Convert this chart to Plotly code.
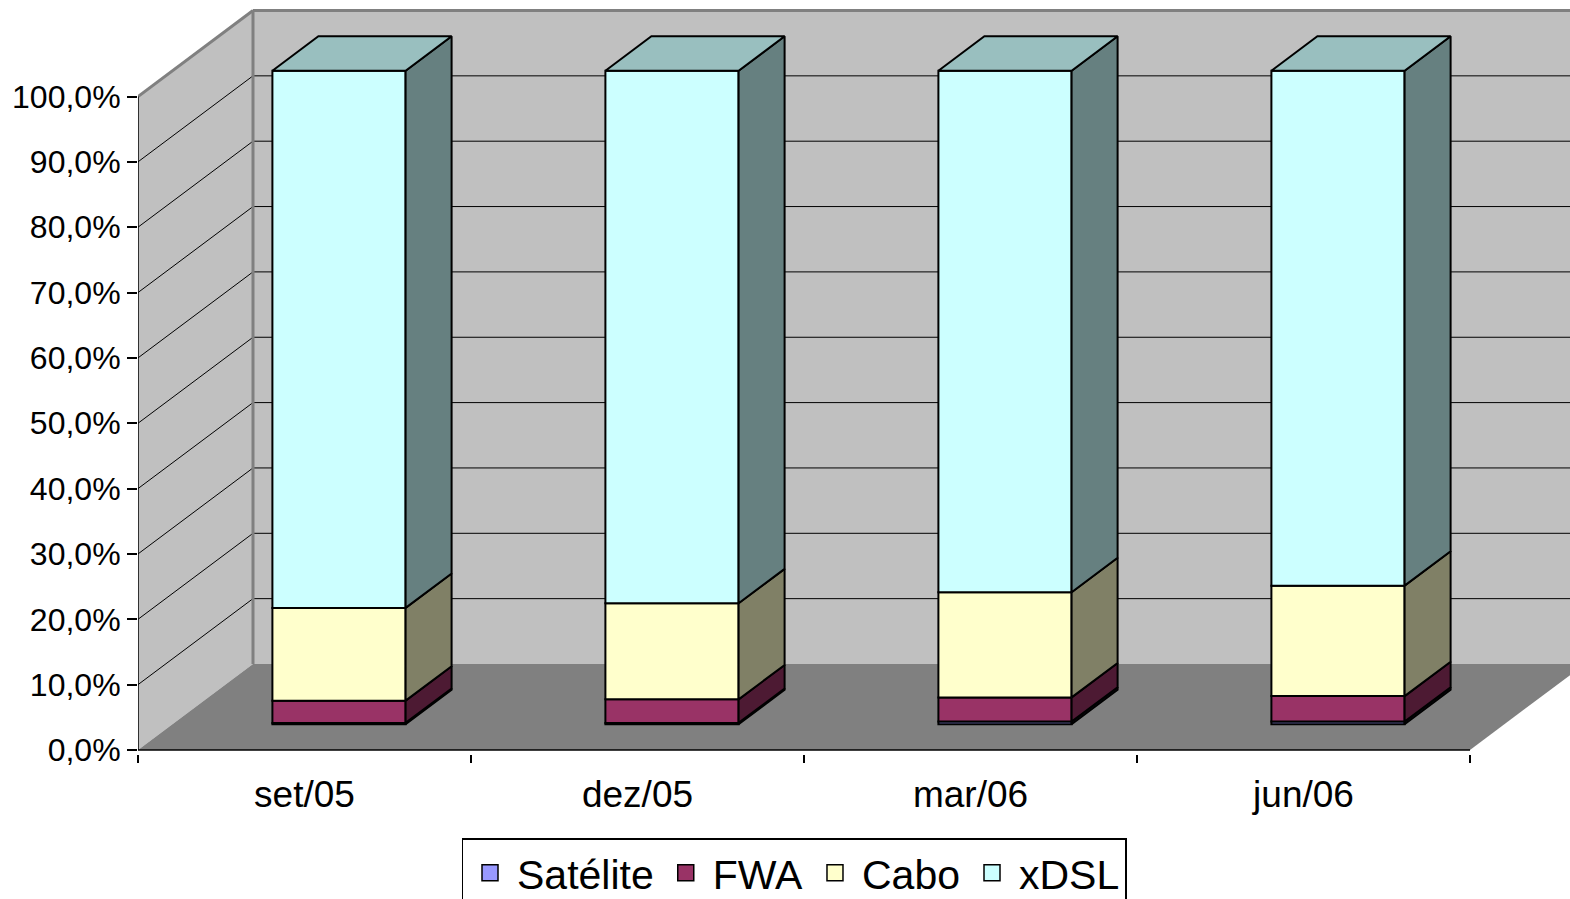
import plotly.graph_objects as go

# Share of broadband accesses by technology (percent of total)
categories = ["set/05", "dez/05", "mar/06", "jun/06"]
satelite = [0.2, 0.2, 0.4, 0.4]
fwa = [3.4, 3.6, 3.7, 3.9]
cabo = [14.2, 14.7, 16.1, 16.9]
xdsl = [82.2, 81.5, 79.8, 78.8]

y_ticks = list(range(0, 101, 10))
y_tick_labels = [f"{v},0%" for v in y_ticks]

series_names = ["Satélite", "FWA", "Cabo", "xDSL"]
series_values = [satelite, fwa, cabo, xdsl]
front_colors = ["#9999FF", "#993366", "#FFFFCC", "#CCFFFF"]
side_colors = ["#4D4D80", "#4D1A33", "#808066", "#668080"]
top_colors = ["#7373BF", "#73264D", "#BFBF99", "#99BFBF"]

FONT = "Liberation Sans, Arial, sans-serif"

# pixel calibration of the drawing area
FIG_W, FIG_H = 1570, 899
LEFT = 138            # pixel of x = 0 (front left corner)
BOTTOM = 754          # bottom edge of the plotting area
ZERO_PX = 750         # pixel row of 0 %
SX = 333.0            # pixels per category
SY = 6.535            # pixels per percent

X_RANGE = [0, (FIG_W - LEFT) / SX]
Y_RANGE = [-(BOTTOM - ZERO_PX) / SY, ZERO_PX / SY]

# depth of the 3-D box (in axis units) and bar geometry
DX = 115 / SX
DY = 86 / SY
BAR_W = 0.4
GAP_FRONT = 0.3       # fraction of depth in front of the bars
BAR_DEPTH = 0.4       # fraction of depth occupied by the bars
N = len(categories)
X_END = N + DX + 0.5

ox, oy = GAP_FRONT * DX, GAP_FRONT * DY
bdx, bdy = BAR_DEPTH * DX, BAR_DEPTH * DY

fig = go.Figure()

# ---- walls, floor and gridlines (drawn beneath the bars)
shapes = []


def poly(pts, fill):
    path = "M " + " L ".join(f"{x},{y}" for x, y in pts) + " Z"
    shapes.append(dict(type="path", path=path, xref="x", yref="y",
                       layer="below", fillcolor=fill,
                       line=dict(width=0, color=fill)))


def seg(x0, y0, x1, y1, color, width):
    shapes.append(dict(type="line", xref="x", yref="y", layer="below",
                       x0=x0, y0=y0, x1=x1, y1=y1,
                       line=dict(color=color, width=width)))


poly([(DX, DY), (X_END, DY), (X_END, 100 + DY), (DX, 100 + DY)], "#C0C0C0")
poly([(0, 0), (0, 100), (DX, 100 + DY), (DX, DY)], "#C0C0C0")
poly([(0, 0), (N, 0), (N + DX, DY), (DX, DY)], "#808080")

for v in y_ticks[1:-1]:
    seg(DX, v + DY, X_END, v + DY, "#000000", 1)
    seg(0, v, DX, v + DY, "#000000", 1)

seg(0, 100, DX, 100 + DY, "#808080", 3)
seg(DX, 100 + DY, X_END, 100 + DY, "#808080", 3)
seg(DX, DY, DX, 100 + DY, "#808080", 3)
seg(0, 0, 0, 100, "#000000", 1.5)
seg(0, 0, N, 0, "#000000", 1.5)

# ---- stacked 3-D columns
centers = [i + 0.5 + ox for i in range(N)]
cum = [0.0] * N
for name, vals, fc, sc in zip(series_names, series_values,
                              front_colors, side_colors):
    bases = [c + oy for c in cum]
    fig.add_trace(go.Bar(
        x=centers, y=vals, base=bases, width=BAR_W,
        marker=dict(color=fc, line=dict(color="#000000", width=2)),
        name=name, showlegend=False, hoverinfo="skip"))

    sx, sy = [], []
    for xc, b, v in zip(centers, bases, vals):
        xr = xc + BAR_W / 2
        sx += [xr, xr + bdx, xr + bdx, xr, xr, None]
        sy += [b, b + bdy, b + v + bdy, b + v, b, None]
    fig.add_trace(go.Scatter(
        x=sx, y=sy, mode="lines", fill="toself", fillcolor=sc,
        line=dict(color="#000000", width=2), showlegend=False,
        hoverinfo="skip"))
    cum = [c + v for c, v in zip(cum, vals)]

# top faces of the columns
tx, ty = [], []
for xc, c in zip(centers, cum):
    xl, xr, t = xc - BAR_W / 2, xc + BAR_W / 2, c + oy
    tx += [xl, xl + bdx, xr + bdx, xr, xl, None]
    ty += [t, t + bdy, t + bdy, t, t, None]
fig.add_trace(go.Scatter(
    x=tx, y=ty, mode="lines", fill="toself", fillcolor=top_colors[-1],
    line=dict(color="#000000", width=2), showlegend=False, hoverinfo="skip"))

# legend entries
for name, fc in zip(series_names, front_colors):
    fig.add_trace(go.Scatter(
        x=[None], y=[None], mode="markers", name=name,
        marker=dict(symbol="square", size=16, color=fc,
                    line=dict(color="#000000", width=1.5))))

fig.update_layout(
    width=FIG_W, height=FIG_H,
    margin=dict(l=LEFT, r=0, t=0, b=FIG_H - BOTTOM, autoexpand=False),
    paper_bgcolor="#FFFFFF", plot_bgcolor="#FFFFFF",
    barmode="overlay", shapes=shapes,
    font=dict(family=FONT, color="#000000"),
    xaxis=dict(range=X_RANGE, showgrid=False, zeroline=False, showline=False,
               automargin=False,
               tickmode="array", tickvals=[i + 0.5 for i in range(N)],
               ticktext=categories, ticks="", ticklabelstandoff=15,
               tickfont=dict(size=37, family=FONT, color="#000000"),
               minor=dict(tickmode="array", tickvals=list(range(N + 1)),
                          ticks="outside", ticklen=8, tickwidth=1.5,
                          tickcolor="#000000", showgrid=False)),
    yaxis=dict(range=Y_RANGE, showgrid=False, zeroline=False, showline=False,
               automargin=False,
               tickmode="array", tickvals=y_ticks, ticktext=y_tick_labels,
               ticks="outside", ticklen=10, tickwidth=1.5, tickcolor="#000000",
               ticklabelstandoff=0,
               tickfont=dict(size=32, family=FONT, color="#000000")),
    legend=dict(orientation="h", xref="container", yref="container",
                x=794 / FIG_W, xanchor="center",
                y=1 - 838 / FIG_H, yanchor="top",
                itemwidth=44,
                bordercolor="#000000", borderwidth=1.5, bgcolor="#FFFFFF",
                font=dict(size=41, family=FONT, color="#000000"),
                traceorder="normal"),
)

fig.write_html("out.html")
